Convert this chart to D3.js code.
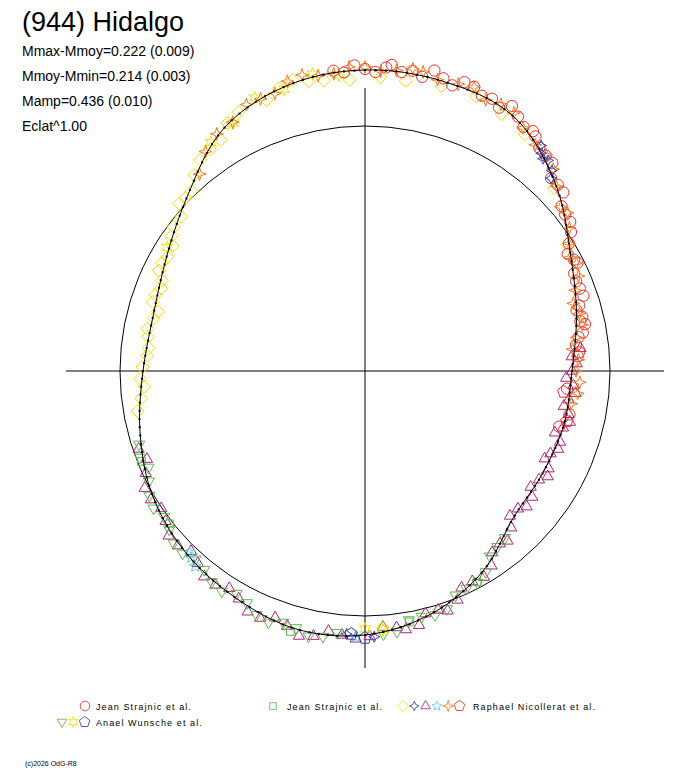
<!DOCTYPE html>
<html><head><meta charset="utf-8">
<script src="https://cdn.jsdelivr.net/npm/d3@7"></script>
<style>body{margin:0;background:#fff}text{font-family:"Liberation Sans",Arial,sans-serif}</style>
</head><body><svg id="c" width="688" height="768"></svg>
<script>
// mean lightcurve: radius (px) read every 15 deg, clockwise from top
var curveAngles = [0,15,30,45,60,75,90,105,120,135,150,165,180,195,210,225,240,255,270,285,300,315,330,345];
var curveRadius = [301,300,295,268,237,219,207,206,205,209,233,252,264,267,261,255,246,233,222,219,229,250,281,296];

// observations: [angle deg, offset from mean curve px]
var redCircles = [[-6,2],[-4,-1],[-2,5],[0,1],[2,-2],[4,3],[5,6],[7,0],[9,3],[11,-1],[13,8],[15,3],[17,-1],[19,6],[21,5],[23,0],[25,2],[27,-2],[29,7],[31,3],[33,0],[35,5],[36,4],[38,1],[40,3],[42,6],[44,-2],[46,2],[48,5],[50,-1],[52,1],[54,5],[56,4],[58,0],[60,-3],[62,3],[63,6],[65,1],[67,2],[69,5],[71,8],[73,3],[74,0],[76,6],[77,4],[78,9],[80,7],[81,3],[83,1],[85,5],[86,4],[95,-3],[102,3],[106,-4]];
var greenSquares = [[152,3],[170,-2],[196,4],[232,-3],[248,2]];
var yellowDiamonds = [[-20,-4],[-17,1],[-14,3],[-11,-3],[-8,-6],[-3,-9],[3,-7],[8,-8],[15,-5],[22,-3],[28,-6],[34,-4],[46,-3],[58,-2],[260,2],[263,-1],[266,-3],[268,2],[271,1],[274,-2],[276,-2],[279,1],[281,3],[284,-1],[286,-4],[288,3],[290,2],[292,-2],[294,-1],[296,4],[298,3],[300,-1],[303,-3],[305,1],[307,2],[310,-2],[312,5],[314,1],[316,-2],[319,2],[322,3],[325,-1],[328,-5],[331,1],[334,2],[176,-4]];
var blueCross = [[38,4],[39,0],[40,-1],[41,3],[43,2],[44,-2],[178,3],[184,-2]];
var purpleTriangles = [[84,6],[86,-2],[88,4],[90,0],[92,-5],[94,3],[96,6],[98,0],[100,-4],[102,2],[104,5],[106,0],[108,-6],[110,2],[112,3],[114,-2],[116,-5],[118,3],[120,6],[122,0],[125,-3],[127,4],[130,5],[132,-1],[135,-4],[137,3],[140,6],[142,0],[145,-3],[147,4],[150,5],[153,-1],[156,-4],[158,3],[161,6],[163,0],[166,-3],[168,5],[171,4],[173,-1],[176,-5],[179,2],[182,3],[185,-1],[188,-4],[191,3],[194,6],[197,0],[200,-3],[203,4],[206,5],[209,-1],[212,-4],[215,2],[218,3],[221,-2],[224,-5],[227,2],[230,4],[233,-1],[236,-3],[239,3],[242,5],[245,0],[248,-4],[251,3]];
var cyanStars = [[221,2],[223,-1],[224,-3],[182,1]];
var orangeStars = [[-40,-3],[-36,2],[-32,2],[-28,-2],[-24,3],[-21,0],[-18,-2],[-15,4],[-12,5],[-9,0],[-6,-1],[-3,4],[0,3],[3,-1],[6,1],[9,5],[11,4],[14,0],[18,2],[21,5],[24,-2],[27,2],[30,3],[33,-1],[37,-1],[40,4],[43,4],[46,0],[50,-2],[52,4],[55,3],[58,0],[61,-1],[63,5],[66,5],[69,0],[72,-3],[75,3],[78,6],[81,1],[84,-2],[87,5],[90,4],[93,9],[96,8],[99,3]];
var redPentagons = [[96,-6],[104,2]];
var greenTriDown = [[140,2],[143,-1],[146,-3],[149,3],[152,4],[155,0],[158,-2],[161,4],[164,3],[167,-2],[170,-4],[173,3],[176,2],[186,-3],[189,2],[192,4],[195,-1],[198,-2],[201,4],[204,3],[207,-2],[210,-4],[213,3],[216,2],[219,-2],[222,-3],[225,3],[228,4],[231,0],[234,-2],[237,4],[240,3],[243,-1],[246,-4],[249,3],[252,2]];
var yellowSixStars = [[-34,2],[-28,-3],[-22,4],[-16,-2],[-10,3],[-5,-3],[180,-6],[176,-2],[302,2]];
var bluePentagons = [[180,3],[183,-2]];

var cx = 365, cy = 371, refR = 245;
var svg = d3.select("#c");

function pt(a, r) {
  var t = a * Math.PI / 180;
  return [cx + r * Math.sin(t), cy - r * Math.cos(t)];
}
// periodic interpolation of the mean curve
function radiusAt(a) {
  a = ((a % 360) + 360) % 360;
  var i = Math.floor(a / 15), f = (a - i * 15) / 15;
  var r0 = curveRadius[(i + 23) % 24], r1 = curveRadius[i % 24], r2 = curveRadius[(i + 1) % 24], r3 = curveRadius[(i + 2) % 24];
  return r1 + 0.5 * f * (r2 - r0 + f * (2 * r0 - 5 * r1 + 4 * r2 - r3 + f * (3 * (r1 - r2) + r3 - r0)));
}

// axes and reference circle
svg.append("line").attr("x1", 66).attr("x2", 664).attr("y1", cy).attr("y2", cy).attr("stroke", "#000");
svg.append("line").attr("x1", cx).attr("x2", cx).attr("y1", 88).attr("y2", 668).attr("stroke", "#000");
svg.append("circle").attr("cx", cx).attr("cy", cy).attr("r", refR).attr("fill", "none").attr("stroke", "#000");

function starPath(n, ro, ri) {
  var p = [];
  for (var k = 0; k < 2 * n; k++) {
    var t = Math.PI * k / n - Math.PI / 2, r = k % 2 ? ri : ro;
    p.push([r * Math.cos(t), r * Math.sin(t)]);
  }
  return "M" + p.join("L") + "Z";
}
function polyPath(n, r, rot) {
  var p = [];
  for (var k = 0; k < n; k++) {
    var t = 2 * Math.PI * k / n - Math.PI / 2 + (rot || 0);
    p.push([r * Math.cos(t), r * Math.sin(t)]);
  }
  return "M" + p.join("L") + "Z";
}
var shapes = {
  circle: d3.symbol(d3.symbolCircle, 100)(),
  square: polyPath(4, 5.5, Math.PI / 4),
  diamond: polyPath(4, 6.5),
  cross4: starPath(4, 5.5, 2.5),
  triangle: polyPath(3, 6.5),
  star5: starPath(5, 6, 2.8),
  orange4: starPath(4, 6.5, 2.2),
  pentagon: polyPath(5, 6.5),
  tridown: polyPath(3, 6.5, Math.PI),
  star6: starPath(6, 6.5, 3)
};

var series = [
  [purpleTriangles, "triangle", "#b0237a"],
  [greenTriDown, "tridown", "#5cb848"],
  [greenSquares, "square", "#5cb848"],
  [yellowDiamonds, "diamond", "#f0e000"],
  [yellowSixStars, "star6", "#f0e000"],
  [cyanStars, "star5", "#60c8e0"],
  [redCircles, "circle", "#e83030"],
  [orangeStars, "orange4", "#f07a20"],
  [redPentagons, "pentagon", "#e83030"],
  [blueCross, "cross4", "#3040b0"],
  [bluePentagons, "pentagon", "#3040b0"]
];
series.forEach(function(s) {
  svg.append("g").selectAll("path").data(s[0]).join("path")
    .attr("d", shapes[s[1]])
    .attr("transform", function(d) { var p = pt(d[0], radiusAt(d[0]) + d[1]); return "translate(" + p + ")"; })
    .attr("fill", "none").attr("stroke", s[2]).attr("stroke-width", 1);
});

// mean curve with small dots
var line = d3.line().curve(d3.curveCardinalClosed);
svg.append("path").attr("d", line(d3.range(0, 360, 3).map(function(a) { return pt(a, radiusAt(a)); })))
  .attr("fill", "none").attr("stroke", "#000").attr("stroke-width", 1);
svg.append("g").selectAll("rect").data(d3.range(0, 360, 2)).join("rect")
  .attr("x", function(a) { return pt(a, radiusAt(a))[0] - 1; })
  .attr("y", function(a) { return pt(a, radiusAt(a))[1] - 1; })
  .attr("width", 2).attr("height", 2).attr("fill", "#000");

// texts
svg.append("text").attr("x", 22).attr("y", 31).attr("font-size", 27).text("(944) Hidalgo");
var stats = ["Mmax-Mmoy=0.222 (0.009)", "Mmoy-Mmin=0.214 (0.003)", "Mamp=0.436 (0.010)", "Eclat^1.00"];
svg.selectAll("text.s").data(stats).join("text").attr("class", "s")
  .attr("x", 22).attr("y", function(d, i) { return 56 + i * 25; }).attr("font-size", 14).text(function(d) { return d; });

// legend: markers, first marker x, y, text x, label
var legend = [
  [[["circle", "#e83030"]], 85, 706, 96, "Jean Strajnic et al."],
  [[["square", "#5cb848"]], 273, 706, 287, "Jean Strajnic et al."],
  [[["diamond", "#f0e000"], ["cross4", "#3040b0"], ["triangle", "#b0237a"], ["star5", "#60c8e0"], ["orange4", "#f07a20"], ["pentagon", "#e83030"]], 403, 706, 473, "Raphael Nicollerat et al."],
  [[["tridown", "#5cb848"], ["star6", "#f0e000"], ["pentagon", "#3040b0"]], 62, 722, 96, "Anael Wunsche et al."]
];
legend.forEach(function(l) {
  l[0].forEach(function(m, i) {
    svg.append("path").attr("d", shapes[m[0]]).attr("transform", "translate(" + (l[1] + i * 11.3) + "," + l[2] + ") scale(0.85)")
      .attr("fill", "none").attr("stroke", m[1]);
  });
  svg.append("text").attr("x", l[3]).attr("y", l[2] + 3.5).attr("font-size", 9)
    .attr("letter-spacing", 1.1).text(l[4]);
});
svg.append("text").attr("x", 25).attr("y", 766).attr("font-size", 7).text("(c)2026 OdG-R8");
</script></body></html>
